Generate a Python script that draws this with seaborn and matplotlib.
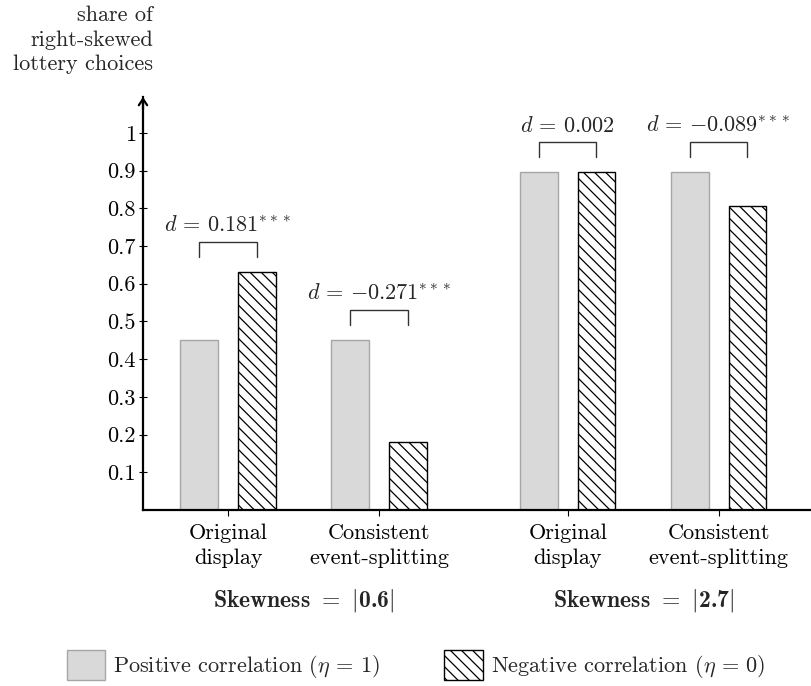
import matplotlib
matplotlib.use("Agg")
import matplotlib.pyplot as plt
from matplotlib.patches import Patch
import seaborn as sns
import pandas as pd

# ---- data ----
categories = ["Original\ndisplay", "Consistent\nevent-splitting",
              "Original\ndisplay", "Consistent\nevent-splitting"]
series_names = [r"Positive correlation ($\eta\,=\,1$)",
                r"Negative correlation ($\eta\,=\,0$)"]
pos_values = [0.450, 0.450, 0.895, 0.895]
neg_values = [0.631, 0.179, 0.897, 0.806]
d_labels = [r"$d\,=\,0.181^{***}$", r"$d\,=\,{-}0.271^{***}$",
            r"$d\,=\,0.002$", r"$d\,=\,{-}0.089^{***}$"]
skew_values = ["0.6", "2.7"]
y_ticks = [0.1, 0.2, 0.3, 0.4, 0.5, 0.6, 0.7, 0.8, 0.9, 1.0]
y_tick_labels = ["0.1", "0.2", "0.3", "0.4", "0.5", "0.6", "0.7", "0.8", "0.9", "1"]
y_label = "share of\nright-skewed\nlottery choices"

# ---- layout ----
GROUP_POS = [0.0, 1.0, 2.25, 3.25]
SKEW_POS = [0.5, 2.75]

sns.set_style("ticks")
plt.rcParams["font.family"] = ["cmr10", "DejaVu Serif"]
plt.rcParams["mathtext.fontset"] = "cm"
plt.rcParams["axes.unicode_minus"] = False
plt.rcParams["hatch.linewidth"] = 0.9

FS = 16

df = pd.DataFrame({
    "x": GROUP_POS * 2,
    "share": pos_values + neg_values,
    "series": [series_names[0]] * 4 + [series_names[1]] * 4,
})

fig = plt.figure(figsize=(8.12, 6.86), dpi=100)
ax = fig.add_axes([143 / 812, 1 - 510 / 686, (812 - 143) / 812, 413 / 686])

sns.barplot(data=df, x="x", y="share", hue="series", hue_order=series_names,
            palette=["#d9d9d9", "white"], native_scale=True, width=0.76,
            gap=0.342, errorbar=None, legend=False, ax=ax, linewidth=1)

HATCH = "\\\\\\"
for rect in ax.containers[0]:
    rect.set_facecolor("#d9d9d9")
    rect.set_edgecolor("#a6a6a6")
    rect.set_linewidth(1.0)
for rect in ax.containers[1]:
    rect.set_facecolor("white")
    rect.set_edgecolor("black")
    rect.set_hatch(HATCH)
    rect.set_linewidth(1.0)

ax.set_xlim(-0.563, 3.868)
ax.set_ylim(0, 1.095)

# brackets and d labels
for i in range(4):
    r0 = ax.containers[0][i]
    r1 = ax.containers[1][i]
    x0 = r0.get_x() + r0.get_width() / 2
    x1 = r1.get_x() + r1.get_width() / 2
    top = max(pos_values[i], neg_values[i]) + 0.08
    ax.plot([x0, x0, x1, x1], [top - 0.04, top, top, top - 0.04],
            color="#333333", lw=1.0, solid_joinstyle="miter")
    ax.text((x0 + x1) / 2, top + 0.026, d_labels[i], ha="center",
            va="baseline", fontsize=FS)

# axes styling
for s in ["top", "right"]:
    ax.spines[s].set_visible(False)
ax.spines["left"].set_linewidth(1.6)
ax.spines["bottom"].set_linewidth(1.6)
ax.spines["left"].set_color("black")
ax.spines["bottom"].set_color("black")

ax.set_xticks(GROUP_POS)
ax.set_xticklabels(categories, fontsize=FS, linespacing=1.3)
ax.set_yticks(y_ticks)
ax.set_yticklabels(y_tick_labels, fontsize=FS)
ax.tick_params(axis="x", direction="out", length=4, width=0.8, pad=6, colors="black")
ax.tick_params(axis="y", direction="inout", length=6, width=0.8, pad=2, colors="black")
ax.set_xlabel("")
ax.set_ylabel("")

# y-axis arrow head
ax.annotate("", xy=(0, 1.0), xycoords="axes fraction", xytext=(0, 0.97),
            textcoords="axes fraction",
            arrowprops=dict(arrowstyle="->,head_length=0.45,head_width=0.3",
                            lw=1.6, color="black", shrinkA=0, shrinkB=0))

# y label
fig.text(153 / 812, 1 - 40 / 686, y_label, ha="right", va="center",
         multialignment="right", fontsize=FS, linespacing=1.32)

# skewness group labels (bold Computer Modern for text and digits)
for xp, val in zip(SKEW_POS, skew_values):
    lab = "Skewness $=$ $|$" + val + "$|$"
    ax.annotate(lab, xy=(xp, 686 - 600), xycoords=("data", "figure pixels"),
                ha="center", va="center", fontsize=FS + 1, family="cmb10",
                annotation_clip=False)

# legend
handles = [Patch(facecolor="#d9d9d9", edgecolor="#a6a6a6", linewidth=1.0),
           Patch(facecolor="white", edgecolor="black", hatch=HATCH, linewidth=1.0)]
fig.legend(handles=handles, labels=series_names, ncol=2, frameon=False,
           loc="center left", bbox_to_anchor=(67 / 812, 1 - 665 / 686),
           borderpad=0, borderaxespad=0, fontsize=FS,
           handlelength=1.72, handleheight=1.72, handletextpad=0.36,
           columnspacing=2.9)

fig.savefig("out.png", dpi=100)
